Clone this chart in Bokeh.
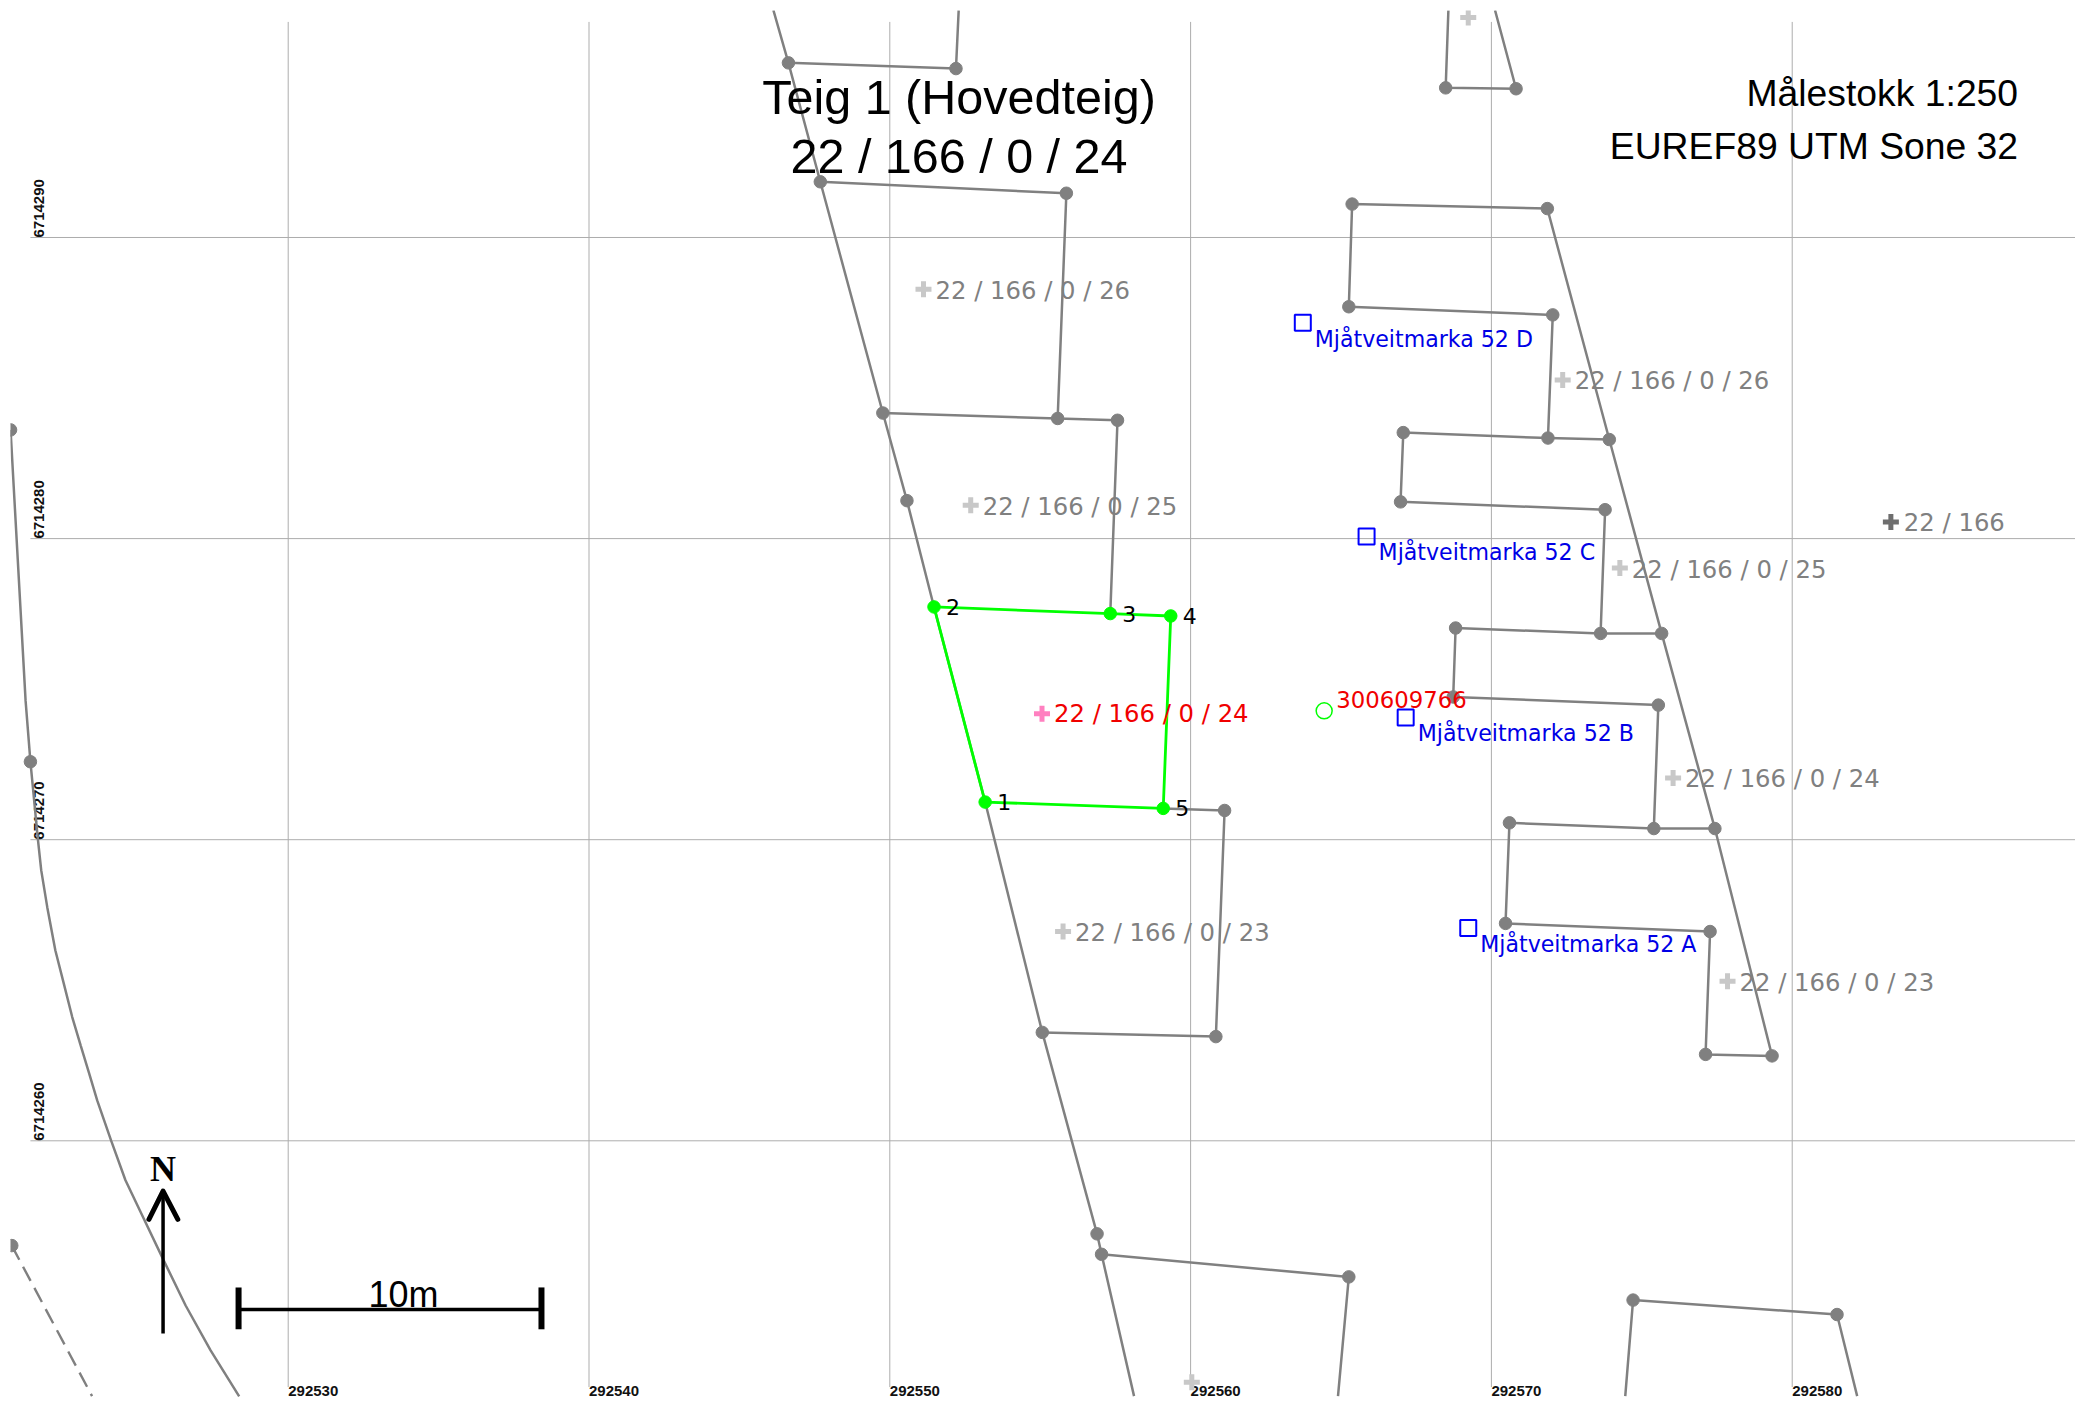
import math
from bokeh.plotting import figure
from bokeh.embed import file_html
from bokeh.resources import INLINE
from bokeh.core.properties import value

# ---------- data (easting, northing) ----------
east_ticks = [292530, 292540, 292550, 292560, 292570, 292580]
north_ticks = [6714260, 6714270, 6714280, 6714290]

# grey boundary polylines
boundary_e = [
    [292546.13, 292546.63, 292547.69, 292549.77, 292550.57, 292551.47, 292553.17, 292555.07, 292556.89, 292557.04, 292558.12],
    [292546.63, 292552.20, 292552.29],
    [292547.69, 292555.87, 292555.58],
    [292549.77, 292555.58, 292557.57, 292557.33],
    [292559.09, 292561.13, 292560.84, 292555.07],
    [292557.04, 292565.26, 292564.90],
    [292568.57, 292568.48, 292570.82, 292570.12],
    [292571.86, 292565.37, 292565.26, 292572.04, 292571.88, 292567.07, 292566.98, 292573.78, 292573.63, 292568.81, 292568.73, 292575.55, 292575.40, 292570.60, 292570.47, 292577.27, 292577.12, 292579.33, 292577.43, 292575.66, 292573.92, 292571.86],
    [292571.88, 292573.92],
    [292573.63, 292575.66],
    [292575.40, 292577.43],
    [292574.45, 292574.71, 292581.49, 292582.16],
    [292520.77, 292521.27, 292521.43, 292521.68, 292521.79, 292521.99, 292522.26, 292522.54, 292522.82, 292523.10, 292523.37,
     292523.65, 292524.12, 292524.59, 292525.20, 292525.86, 292526.59, 292527.42, 292528.37],
]
boundary_n = [
    [6714297.55, 6714295.80, 6714291.85, 6714284.17, 6714281.26, 6714277.73, 6714271.25, 6714263.60, 6714256.91, 6714256.23, 6714251.52],
    [6714295.80, 6714295.61, 6714297.55],
    [6714291.85, 6714291.47, 6714283.99],
    [6714284.17, 6714283.99, 6714283.93, 6714277.51],
    [6714271.04, 6714270.97, 6714263.46, 6714263.60],
    [6714256.23, 6714255.48, 6714251.52],
    [6714297.55, 6714294.97, 6714294.94, 6714297.55],
    [6714290.96, 6714291.11, 6714287.70, 6714287.43, 6714283.34, 6714283.52, 6714281.22, 6714280.96, 6714276.85, 6714277.03, 6714274.74, 6714274.47, 6714270.37, 6714270.56, 6714267.22, 6714266.95, 6714262.87, 6714262.82, 6714270.37, 6714276.85, 6714283.29, 6714290.96],
    [6714283.34, 6714283.29],
    [6714276.85, 6714276.85],
    [6714270.37, 6714270.37],
    [6714251.52, 6714254.71, 6714254.23, 6714251.52],
    [6714283.61, 6714274.61, 6714272.59, 6714270.00, 6714268.98, 6714267.76, 6714266.32, 6714265.22, 6714264.11, 6714263.17, 6714262.28,
     6714261.34, 6714259.99, 6714258.69, 6714257.41, 6714256.03, 6714254.53, 6714253.04, 6714251.51],
]
dashed_e = [292520.81, 292523.48]
dashed_n = [6714256.52, 6714251.52]

# grey boundary points
vertex_e = [292546.63, 292552.20, 292547.69, 292555.87, 292549.77, 292555.58, 292557.57, 292550.57, 292561.13, 292560.84, 292555.07,
            292556.89, 292557.04, 292565.26, 292568.48, 292570.82, 292565.37, 292571.86, 292565.26, 292572.04, 292571.88, 292567.07,
            292573.92, 292566.98, 292573.78, 292573.63, 292568.81, 292575.66, 292568.73, 292575.55, 292575.40, 292577.43, 292570.60, 292570.47,
            292577.27, 292577.12, 292579.33, 292574.71, 292581.49, 292520.77, 292521.43, 292520.81]
vertex_n = [6714295.80, 6714295.61, 6714291.85, 6714291.47, 6714284.17, 6714283.99, 6714283.93, 6714281.26, 6714270.97, 6714263.46, 6714263.60,
            6714256.91, 6714256.23, 6714255.48, 6714294.97, 6714294.94, 6714291.11, 6714290.96, 6714287.70, 6714287.43, 6714283.34, 6714283.52,
            6714283.29, 6714281.22, 6714280.96, 6714276.85, 6714277.03, 6714276.85, 6714274.74, 6714274.47, 6714270.37, 6714270.37, 6714270.56, 6714267.22,
            6714266.95, 6714262.87, 6714262.82, 6714254.71, 6714254.23, 6714283.61, 6714272.59, 6714256.52]

# the selected parcel (green), in point-number order
parcel_numbers = ["1", "2", "3", "4", "5"]
parcel_e = [292553.17, 292551.47, 292557.33, 292559.34, 292559.09]
parcel_n = [6714271.25, 6714277.73, 6714277.51, 6714277.43, 6714271.04]

# parcel labels
label_e = [292551.12, 292552.69, 292572.37, 292574.27, 292576.04, 292577.85, 292555.76]
label_n = [6714288.28, 6714281.11, 6714285.27, 6714279.02, 6714272.05, 6714265.30, 6714266.95]
label_text = ["22 / 166 / 0 / 26", "22 / 166 / 0 / 25", "22 / 166 / 0 / 26", "22 / 166 / 0 / 25",
              "22 / 166 / 0 / 24", "22 / 166 / 0 / 23", "22 / 166 / 0 / 23"]
extra_cross_e = [292569.23, 292560.04]
extra_cross_n = [6714297.31, 6714251.98]
main_label_e = [292583.28]
main_label_n = [6714280.55]
main_label_text = ["22 / 166"]
selected_label_e = [292555.06]
selected_label_n = [6714274.18]
selected_label_text = ["22 / 166 / 0 / 24"]

# addresses
address_e = [292563.73, 292565.85, 292567.15, 292569.23]
address_n = [6714287.17, 6714280.07, 6714274.06, 6714267.07]
address_text = ["Mjåtveitmarka 52 D", "Mjåtveitmarka 52 C", "Mjåtveitmarka 52 B", "Mjåtveitmarka 52 A"]

# building
building_e = [292564.44]
building_n = [6714274.28]
building_text = ["300609766"]

title_lines = ["Teig 1 (Hovedteig)", "22 / 166 / 0 / 24"]
info_lines = ["Målestokk 1:250", "EUREF89 UTM Sone 32"]
scale_text = "10m"
north_text = "N"

# ---------- figure ----------
E0, E1 = 292520.768, 292589.418
N0, N1 = 6714251.375, 6714297.539
GREY = "#808080"

p = figure(width=2075, height=1400, x_range=(E0, E1), y_range=(N0, N1),
           x_axis_location=None, y_axis_location=None, toolbar_location=None,
           output_backend="svg", min_border_left=10, min_border_top=10,
           min_border_right=0, min_border_bottom=0, outline_line_color=None,
           background_fill_color="white", border_fill_color="white")
p.grid.visible = False

# grid
GRID = "#adadad"
p.segment(x0=east_ticks, x1=east_ticks, y0=[6714251.82] * len(east_ticks), y1=[6714297.16] * len(east_ticks),
          line_color=GRID, line_width=1)
p.segment(x0=[292521.43] * len(north_ticks), x1=[E1] * len(north_ticks), y0=north_ticks, y1=north_ticks,
          line_color=GRID, line_width=1)

# tick labels inside the map
SANS = value("Liberation Sans")
p.text(east_ticks, [6714251.85] * len(east_ticks), text=[str(t) for t in east_ticks], text_align="left",
       text_baseline="top", text_font=SANS, text_font_style="bold", text_font_size="15px", text_color="#111111")
p.text([292521.87] * len(north_ticks), north_ticks, text=[str(t) for t in north_ticks], angle=math.pi / 2,
       text_align="left", text_baseline="bottom", text_font=SANS, text_font_style="bold",
       text_font_size="15px", text_color="#111111")

# boundaries
p.multi_line(boundary_e, boundary_n, line_color=GREY, line_width=2.5)
p.line(dashed_e, dashed_n, line_color=GREY, line_width=2.4, line_dash="16 8")
p.scatter(vertex_e, vertex_n, size=12.5, marker="circle", color=GREY)

# selected parcel
p.patch(parcel_e, parcel_n, fill_color=None, line_color="#00ff00", line_width=2.8)
p.scatter(parcel_e, parcel_n, size=12.5, marker="circle", color="#00ff00")
p.text(parcel_e, parcel_n, text=parcel_numbers, x_offset=12, y_offset=0, text_baseline="alphabetic",
       text_font=value("DejaVu Sans"), text_font_size="22px", text_color="black")

# parcel crosses and labels
CROSS = "#c8c8c8"
p.scatter(label_e, label_n, marker="cross", size=16, line_width=5, color=CROSS)
p.scatter(extra_cross_e, extra_cross_n, marker="cross", size=16, line_width=5, color=CROSS)
p.scatter(main_label_e, main_label_n, marker="cross", size=16, line_width=5, color="#6e6e6e")
p.scatter(selected_label_e, selected_label_n, marker="cross", size=16, line_width=5, color="#ff80c0")
p.text(label_e, label_n, text=label_text, x_offset=12, y_offset=1, text_baseline="alphabetic",
       text_font=value("DejaVu Sans"), text_font_size="24.3px", text_color=GREY)
p.text(main_label_e, main_label_n, text=main_label_text, x_offset=13, y_offset=0, text_baseline="alphabetic",
       text_font=value("DejaVu Sans"), text_font_size="24.3px", text_color=GREY)
p.text(selected_label_e, selected_label_n, text=selected_label_text, x_offset=12, y_offset=0, text_baseline="alphabetic",
       text_font=value("DejaVu Sans"), text_font_size="24.3px", text_color="#f00000")

# addresses
p.scatter(address_e, address_n, marker="square", size=16, fill_color=None, line_color="#0000ff", line_width=2)
p.text(address_e, address_n, text=address_text, x_offset=12, y_offset=16, text_baseline="alphabetic",
       text_font=value("DejaVu Sans"), text_font_size="22.1px", text_color="#0000e6")

# building
p.scatter(building_e, building_n, marker="circle", size=16, fill_color=None, line_color="#00ff00", line_width=1.5)
p.text(building_e, building_n, text=building_text, x_offset=12, y_offset=-11, text_baseline="alphabetic",
       text_font=value("DejaVu Sans"), text_font_size="22.8px", text_color="#f00000")

# title and information
p.text([292552.30, 292552.30], [6714294.65, 6714292.70], text=title_lines, text_align="center",
       text_baseline="alphabetic", text_font=SANS, text_font_size="48.5px", text_color="black")
p.text([292587.51, 292587.51], [6714294.81, 6714293.05], text=info_lines, text_align="right",
       text_baseline="alphabetic", text_font=SANS, text_font_size="37.3px", text_color="black")

# scale bar
p.line([292528.35, 292538.42], [6714254.40, 6714254.40], line_color="black", line_width=3.5)
p.segment([292528.35, 292538.42], [6714255.13, 6714255.13], [292528.35, 292538.42], [6714253.74, 6714253.74],
          line_color="black", line_width=6)
p.text([292533.83], [6714254.90], text=[scale_text], text_align="center", text_baseline="alphabetic",
       text_font=SANS, text_font_size="36px", text_color="black")

# north arrow
p.line([292525.84, 292525.84], [6714253.60, 6714258.33], line_color="black", line_width=3.5)
p.line([292525.37, 292525.84, 292526.33], [6714257.39, 6714258.33, 6714257.39], line_color="black", line_width=5,
       line_cap="round", line_join="round")
p.text([292525.84], [6714259.06], text=[north_text], text_align="center", text_baseline="alphabetic",
       text_font=value("Liberation Serif"), text_font_style="bold", text_font_size="36px", text_color="black")

open("out.html", "w").write(file_html(p, INLINE))
